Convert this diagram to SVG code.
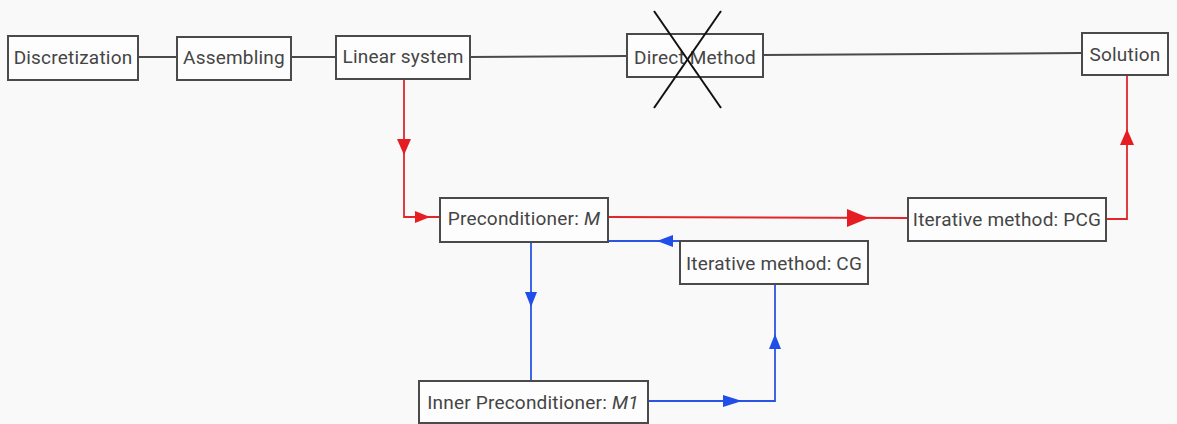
<svg xmlns="http://www.w3.org/2000/svg" width="1177" height="424" viewBox="0 0 1177 424">
<style>
.box{fill:#fdfdfd;stroke:#4a4a4a;stroke-width:2}
.t{font-family:Roboto,"Liberation Sans",sans-serif;font-size:19px;letter-spacing:0.2px;fill:#454545;text-anchor:middle;dominant-baseline:central}
.k{fill:none;stroke:#4a4a4a;stroke-width:2}
.r{fill:none;stroke:#e0262a;stroke-width:1.8}
.b{fill:none;stroke:#2a55e0;stroke-width:1.8}
.ra{fill:#e41e22}
.ba{fill:#1f4fe8}
</style>
<rect width="1177" height="424" fill="#f9f9f9"/>
<g id="connectors">
<line class="k" x1="138" y1="57" x2="177" y2="57"/>
<line class="k" x1="291" y1="57" x2="336" y2="57"/>
<line class="k" x1="470" y1="57" x2="627" y2="56"/>
<line class="k" x1="763" y1="55" x2="1082" y2="53"/>
<polyline class="r" points="404,79 404,217 440,217"/>
<polygon class="ra" points="397,139 411,139 404,155"/>
<polygon class="ra" points="415,211 415,223 430,217"/>
<line class="r" x1="608" y1="217" x2="908" y2="218"/>
<polygon class="ra" points="847,209 847,227 869,218"/>
<polyline class="r" points="1106,219 1127,219 1127,75"/>
<polygon class="ra" points="1120,145 1134,145 1127,129"/>
<line class="b" x1="608" y1="241" x2="680" y2="241"/>
<polygon class="ba" points="673,235 673,247 657,241"/>
<line class="b" x1="531" y1="242" x2="531" y2="381"/>
<polygon class="ba" points="525,292 537,292 531,307"/>
<polyline class="b" points="648,401 775,401 775,284"/>
<polygon class="ba" points="723,395 723,407 742,401"/>
<polygon class="ba" points="769,349 781,349 775,334"/>
</g>
<g id="discretization"><rect class="box" x="8" y="36" width="130" height="44"/><text class="t" x="73" y="57">Discretization</text></g>
<g id="assembling"><rect class="box" x="177" y="37" width="114" height="43"/><text class="t" x="234" y="57">Assembling</text></g>
<g id="linear-system"><rect class="box" x="336" y="36" width="134" height="43"/><text class="t" x="403" y="56">Linear system</text></g>
<g id="direct-method"><rect class="box" x="627" y="34" width="136" height="43"/><text class="t" x="695" y="57">Direct Method</text>
<line x1="654" y1="11" x2="721" y2="108" stroke="#111" stroke-width="2"/>
<line x1="721" y1="11" x2="654" y2="108" stroke="#111" stroke-width="2"/></g>
<g id="solution"><rect class="box" x="1082" y="33" width="86" height="42"/><text class="t" x="1125" y="54">Solution</text></g>
<g id="preconditioner"><rect class="box" x="440" y="198" width="168" height="44"/><text class="t" x="524" y="218">Preconditioner: <tspan font-style="italic">M</tspan></text></g>
<g id="pcg"><rect class="box" x="908" y="198" width="198" height="43"/><text class="t" x="1007" y="219">Iterative method: PCG</text></g>
<g id="cg"><rect class="box" x="680" y="241" width="188" height="43"/><text class="t" x="774" y="263">Iterative method: CG</text></g>
<g id="inner-preconditioner"><rect class="box" x="419" y="381" width="229" height="42"/><text class="t" x="533" y="402">Inner Preconditioner: <tspan font-style="italic">M1</tspan></text></g>
</svg>
